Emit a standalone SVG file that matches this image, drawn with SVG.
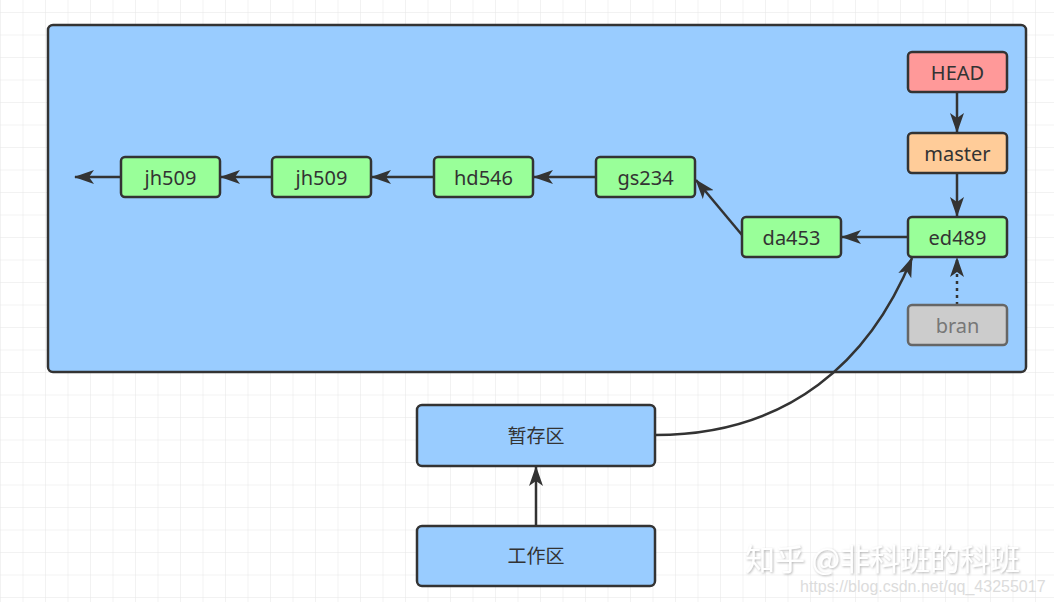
<svg xmlns="http://www.w3.org/2000/svg" width="1054" height="602" viewBox="0 0 1054 602">
<defs>
<pattern id="grid" x="1" y="13" width="22.5" height="22.5" patternUnits="userSpaceOnUse">
<path d="M22.5 0 V22.5 M0 22.5 H22.5" fill="none" stroke="#e6e6e6" stroke-width="1"/>
</pattern>
<marker id="ah" viewBox="0 0 20 14" refX="19" refY="7" markerWidth="20" markerHeight="14" markerUnits="userSpaceOnUse" orient="auto">
<path d="M0 0 L20 7 L0 14 L5 7 Z" fill="#333"/>
</marker>
<filter id="sh" x="-5%" y="-20%" width="110%" height="140%">
<feDropShadow dx="1" dy="1" stdDeviation="0.8" flood-color="#888" flood-opacity="0.6"/>
</filter>
</defs>
<style>
.n rect{stroke:#333;stroke-width:2.5}
.g rect{fill:#99ff99}
.t{font-family:"Noto Sans","Noto Sans CJK SC","Liberation Sans",sans-serif;font-size:20px;fill:#333;text-anchor:middle;dominant-baseline:central}
.c path{fill:none;stroke:#333;stroke-width:2.5}
</style>
<rect width="1054" height="602" fill="#ffffff"/>
<rect width="1054" height="602" fill="url(#grid)"/>
<g id="repo">
<rect x="48" y="25" width="978" height="347" rx="5" fill="#99ccff" stroke="#333" stroke-width="2.5"/>
</g>
<g class="c" id="connectors">
<path d="M121 177 H75" marker-end="url(#ah)"/>
<path d="M272 177 H221" marker-end="url(#ah)"/>
<path d="M434 177 H372" marker-end="url(#ah)"/>
<path d="M596 177 H534" marker-end="url(#ah)"/>
<path d="M742 235 L696 180" marker-end="url(#ah)"/>
<path d="M908 237 H842" marker-end="url(#ah)"/>
<path d="M957 92 V132" marker-end="url(#ah)"/>
<path d="M957 173 V216" marker-end="url(#ah)"/>
<path d="M957 305 V258" stroke-dasharray="3 4" marker-end="url(#ah)"/>
<path d="M536 526 V467" marker-end="url(#ah)"/>
<path d="M655 435 C790 435 870 360 912 258" marker-end="url(#ah)"/>
</g>
<g id="jh509a" class="n g"><rect x="121" y="157" width="99" height="40" rx="4"/><text class="t" x="170.5" y="177">jh509</text></g>
<g id="jh509b" class="n g"><rect x="272" y="157" width="99" height="40" rx="4"/><text class="t" x="321.5" y="177">jh509</text></g>
<g id="hd546" class="n g"><rect x="434" y="157" width="99" height="40" rx="4"/><text class="t" x="483.5" y="177">hd546</text></g>
<g id="gs234" class="n g"><rect x="596" y="157" width="99" height="40" rx="4"/><text class="t" x="645.5" y="177">gs234</text></g>
<g id="da453" class="n g"><rect x="742" y="217" width="99" height="40" rx="4"/><text class="t" x="791.5" y="237">da453</text></g>
<g id="ed489" class="n g"><rect x="908" y="217" width="99" height="40" rx="4"/><text class="t" x="957.5" y="237">ed489</text></g>
<g id="HEAD" class="n"><rect x="908" y="52" width="99" height="40" rx="4" fill="#ff9999"/><text class="t" x="957.5" y="72">HEAD</text></g>
<g id="master" class="n"><rect x="908" y="133" width="99" height="40" rx="4" fill="#ffcc99"/><text class="t" x="957.5" y="153">master</text></g>
<g id="bran"><rect x="908" y="305" width="99" height="40" rx="4" fill="#cccccc" stroke="#666" stroke-width="2.5"/><text class="t" x="957.5" y="325" style="fill:#777">bran</text></g>
<g id="stage" class="n"><rect x="417" y="405" width="238" height="61" rx="5" fill="#99ccff"/><text class="t" x="536" y="436" style="font-size:19px">暂存区</text></g>
<g id="work" class="n"><rect x="417" y="526" width="238" height="60" rx="5" fill="#99ccff"/><text class="t" x="536" y="556" style="font-size:19px">工作区</text></g>
<g id="watermark">
<text x="745" y="570" filter="url(#sh)" style="font-family:'Noto Sans CJK SC','Noto Sans',sans-serif;font-size:30px;fill:#ffffff">知乎 @非科班的科班</text>
<text x="800" y="592" style="font-family:'Liberation Sans',sans-serif;font-size:16px;fill:#dcdcdc">https://blog.csdn.net/qq_43255017</text>
</g>
</svg>
